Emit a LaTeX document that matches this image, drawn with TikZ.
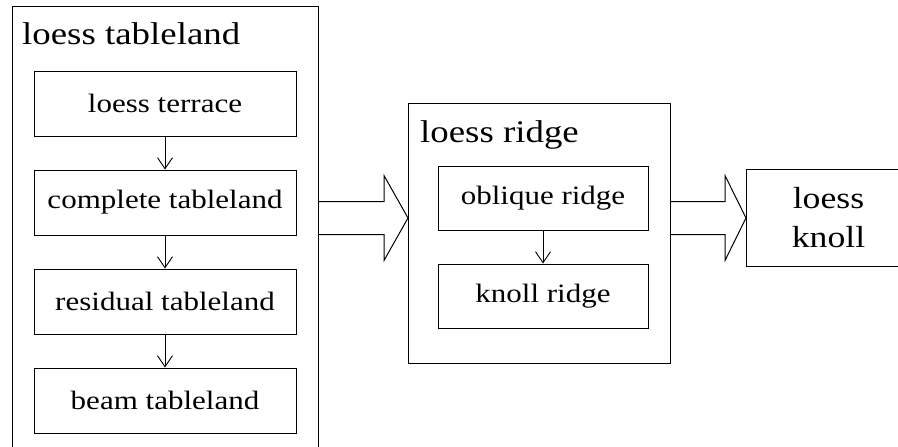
\documentclass[tikz,border=0pt]{standalone}
\usepackage{fontspec}
\setmainfont[FakeStretch=1.17]{Liberation Serif}
\usepackage{tikz}
\usetikzlibrary{arrows.meta, positioning, calc}
\tikzstyle{group}    = [rectangle, draw=black, line width=1pt, inner sep=0pt]
\tikzstyle{stage}    = [rectangle, draw=black, line width=1pt, minimum height=65pt,
                        text centered, font=\fontsize{26.5}{30}\selectfont]
\tikzstyle{grouptitle} = [anchor=base west, inner sep=0pt,
                        font=\fontsize{31.5}{36}\selectfont]
\tikzstyle{arr}      = [-{Straight Barb[length=11pt,width=15pt]}, line width=0.9pt]
\tikzstyle{fatarr}   = [line width=1pt, line join=miter]

\begin{document}
\begin{tikzpicture}[x=1pt, y=-1pt]
  \useasboundingbox (0,0) rectangle (898,447);

  % left group
  \node[group, minimum width=306pt, minimum height=470pt, anchor=north west] (tableland) at (12,6) {};
  \node[grouptitle] (tabletitle) at (22,45) {loess tableland};
  \node[stage, minimum width=262pt] (terrace) at (165,103.5) {loess terrace};
  \node[stage, minimum width=262pt, below=33pt of terrace] (complete) {complete tableland};
  \node[stage, minimum width=262pt, below=33pt of complete] (residual) {residual tableland};
  \node[stage, minimum width=262pt, below=33pt of residual] (beam) {beam tableland};

  \draw[arr] (terrace) -- (complete);
  \draw[arr] (complete) -- (residual);
  \draw[arr] (residual) -- (beam);

  % middle group
  \node[group, minimum width=262pt, minimum height=260pt, anchor=north west] (ridge) at (408,103) {};
  \node[grouptitle] (ridgetitle) at (420,142) {loess ridge};
  \node[stage, minimum width=210pt, minimum height=64pt] (oblique) at (543,198) {oblique ridge};
  \node[stage, minimum width=210pt, minimum height=64pt, below=33pt of oblique] (knollridge) {knoll ridge};

  \draw[arr] (oblique) -- (knollridge);

  % right box
  \node[group, minimum width=164pt, minimum height=97pt, anchor=north west, align=center,
        font=\fontsize{30.5}{39}\selectfont] (knoll) at (746,169) {loess\\knoll};

  % hollow arrows
  \coordinate (s1) at (tableland.east |- knoll.west);
  \coordinate (e1) at (ridge.west |- knoll.west);
  \coordinate (s2) at (ridge.east |- knoll.west);
  \coordinate (e2) at (knoll.west);

  \draw[fatarr] ($(s1)+(0,-16.5)$) -- ($(e1)+(-24,-16.5)$) -- ($(e1)+(-24,-42.5)$) -- (e1)
    -- ($(e1)+(-24,42.5)$) -- ($(e1)+(-24,16.5)$) -- ($(s1)+(0,16.5)$);
  \draw[fatarr] ($(s2)+(0,-16.5)$) -- ($(e2)+(-21,-16.5)$) -- ($(e2)+(-21,-42.5)$) -- (e2)
    -- ($(e2)+(-21,42.5)$) -- ($(e2)+(-21,16.5)$) -- ($(s2)+(0,16.5)$);
\end{tikzpicture}
\end{document}
